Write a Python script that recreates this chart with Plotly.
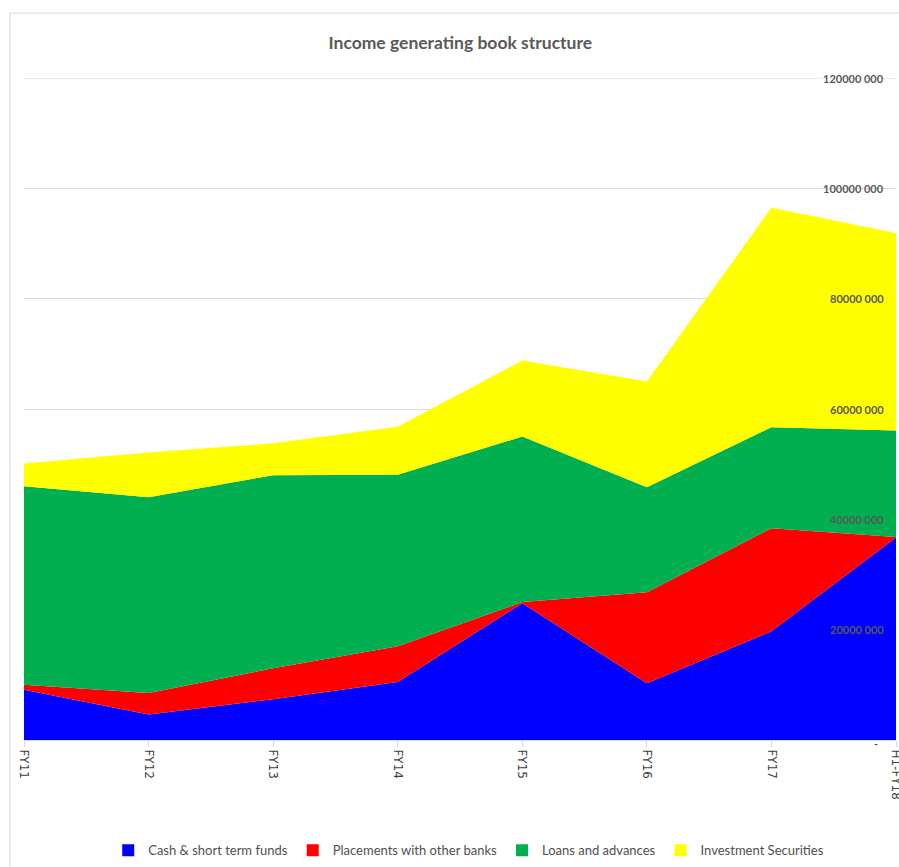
import plotly.graph_objects as go

categories = ["FY11", "FY12", "FY13", "FY14", "FY15", "FY16", "FY17", "H1-FY18"]
cash = [9.1e6, 4.6e6, 7.4e6, 10.5e6, 24.8e6, 10.3e6, 19.7e6, 36.7e6]
placements = [0.9e6, 3.9e6, 5.6e6, 6.5e6, 0.2e6, 16.5e6, 18.7e6, 0.1e6]
loans = [36.0e6, 35.5e6, 35.0e6, 31.1e6, 30.0e6, 19.0e6, 18.3e6, 19.3e6]
investments = [4.1e6, 8.1e6, 5.8e6, 8.7e6, 13.8e6, 19.2e6, 39.8e6, 35.8e6]

series = [
    ("Cash & short term funds", cash, "#0000FF"),
    ("Placements with other banks", placements, "#FF0000"),
    ("Loans and advances", loans, "#00B050"),
    ("Investment Securities", investments, "#FFFF00"),
]

tick_vals = [0, 20e6, 40e6, 60e6, 80e6, 100e6, 120e6]
tick_text = ["-", "20000 000", "40000 000", "60000 000", "80000 000", "100000 000", "120000 000"]

fig = go.Figure()
for name, vals, color in series:
    fig.add_trace(go.Scatter(
        x=categories, y=vals, name=name, stackgroup="one", mode="none",
        fillcolor=color, line=dict(width=0, color=color), showlegend=False,
    ))
# legend entries with small square swatches
for name, vals, color in series:
    fig.add_trace(go.Scatter(
        x=[None], y=[None], name=name, mode="markers",
        marker=dict(symbol="square", size=9, color=color), showlegend=True,
    ))

font_main = "Lato, Open Sans, sans-serif"

annotations = []
for v, t in zip(tick_vals, tick_text):
    annotations.append(dict(
        x=1, xref="paper", y=v, yref="y", text=t, showarrow=False,
        xanchor="right", yanchor="middle", xshift=-10 if t != "-" else -16,
        yshift=0 if t != "-" else -3,
        font=dict(family=font_main, size=11, color="#595959", weight="bold"),
    ))

fig.update_layout(
    width=899, height=867,
    margin=dict(l=24, r=3, t=78, b=126),
    paper_bgcolor="white", plot_bgcolor="white",
    title=dict(text="Income generating book structure", x=0.512, xanchor="center",
               y=1 - 43 / 867, yanchor="middle", yref="container",
               font=dict(family=font_main, size=17.5, color="#595959", weight="bold")),
    showlegend=True,
    legend=dict(orientation="h", x=0.51, xanchor="center", y=-0.165, yanchor="middle",
                font=dict(family=font_main, size=13, color="#505050"),
                traceorder="normal", itemsizing="constant", itemwidth=30),
    xaxis=dict(type="category", range=[0, 7], showgrid=False, showline=True,
               linecolor="#d9d9d9", linewidth=1, ticks="outside", ticklen=6,
               tickcolor="#d9d9d9", tickangle=90, automargin=False,
               tickfont=dict(family="DejaVu Sans, sans-serif", size=12, color="#404040"),
               fixedrange=True, zeroline=False),
    yaxis=dict(range=[0, 120e6], side="right", tickvals=tick_vals,
               showticklabels=False, automargin=False,
               showgrid=True, gridcolor="#d9d9d9",
               gridwidth=1, zeroline=False, showline=False),
    annotations=annotations,
    shapes=[
        dict(type="line", xref="paper", yref="y", x0=0, x1=1, y0=120e6, y1=120e6,
             line=dict(color="#d9d9d9", width=1), layer="below"),
        dict(type="line", xref="paper", yref="paper", x0=-14 / 872, x1=-14 / 872,
             y0=-0.2, y1=(741 - 13) / 663, line=dict(color="#d9d9d9", width=1)),
        dict(type="line", xref="paper", yref="paper", x0=-14 / 872, x1=1.01,
             y0=(741 - 13) / 663, y1=(741 - 13) / 663, line=dict(color="#d9d9d9", width=1)),
    ],
)

fig.write_html("out.html")
